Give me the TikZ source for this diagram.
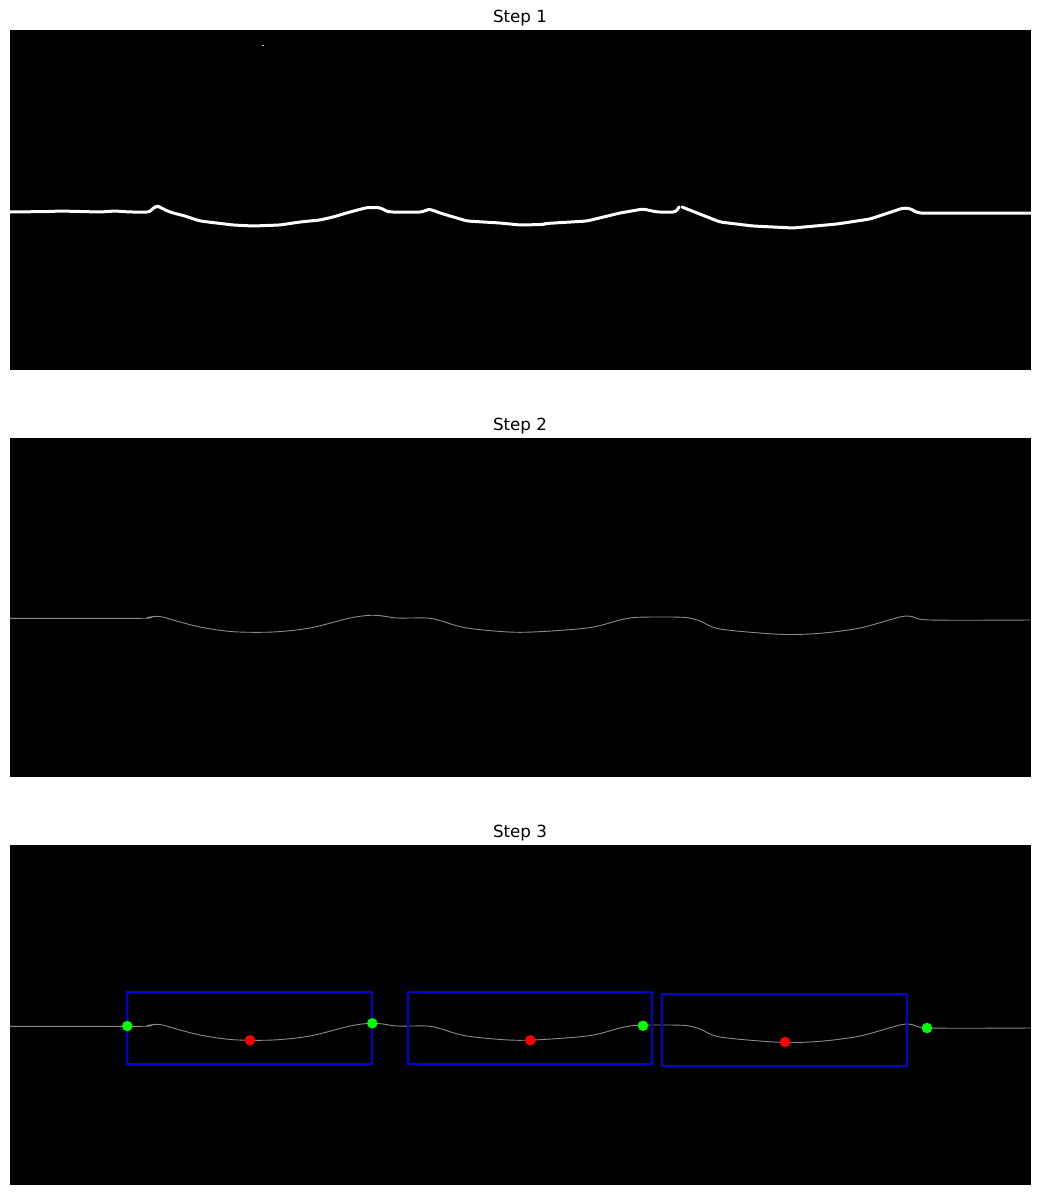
\documentclass[tikz,border=0pt]{standalone}
\usepackage{fontspec}
\setmainfont{DejaVu Sans}
\usepackage{tikz}
\usetikzlibrary{positioning}

\begin{document}
\begin{tikzpicture}[x=1pt, y=-1pt,
        panel/.style={fill=black},
        title/.style={font=\fontsize{16.7}{20}\selectfont, anchor=base, inner sep=0pt},
        rawline/.style={draw=white, line width=3pt, line join=round, line cap=round, rounded corners=3pt},
        edge/.style={draw=white!55!black, line width=0.9pt},
        roi/.style={draw=blue!85!black, line width=1.5pt},
        gdot/.style={circle, fill=green, inner sep=0pt, minimum size=10.5pt},
        rdot/.style={circle, fill=red, inner sep=0pt, minimum size=10.5pt}
      ]
        \useasboundingbox (0,0) rectangle (1040,1195);
        \fill[panel] (10,30) rectangle (1031,370);
        \fill[panel] (10,438) rectangle (1031,777);
        \fill[panel] (10,845) rectangle (1031,1185);
        \node[title] (t1) at (520,22)  {Step 1};
        \node[title] (t2) at (520,430) {Step 2};
        \node[title] (t3) at (520,837) {Step 3};
        % raw binary edge
        \fill[white!80!black] (262.3,44.8) rectangle (263.8,46.3);
        \draw[rawline] (10,212) -- (50,211.5) -- (60,211) -- (100,212) -- (115,211) -- (130,212)
            -- (150,212) -- (153,208) -- (157,206) -- (160,207) -- (165,210) -- (173,213)
            -- (185,216) -- (200,221) -- (233,225) -- (253,226) -- (280,225) -- (300,222)
            -- (320,220) -- (333,217) -- (350,212) -- (367,207.5) -- (380,207.5) -- (386,211)
            -- (390,212) -- (423,212) -- (427,209.5) -- (431,209.5) -- (440,213) -- (467,221)
            -- (500,223) -- (520,225) -- (543,224.5) -- (546,223.5) -- (587,221) -- (620,213)
            -- (643,209) -- (657,212) -- (676,212) -- (679,207);
        \draw[rawline] (682,207) -- (720,222) -- (753,226) -- (793,228) -- (837,224) -- (870,219)
            -- (903,208) -- (910,208.5) -- (918,213) -- (1031,213);
        % smoothed edge, steps 2 and 3
        \foreach \off in {0,408}
          \draw[edge, yshift=-\off pt] plot[smooth, tension=0.5] coordinates {
            (10,618.3) (140,618.3) (148,617.3) (157,616.3) (165,617.5) (173,620) (200,627)
            (233,631.7) (273,632) (310,628) (350,618) (370,615.3) (383,616) (397,618) (427,618)
            (440,620.5) (467,628) (520,632.3) (587,628) (620,620) (637,617.3) (683,617.3)
            (700,621) (720,629) (780,634.3) (820,633.3) (860,628) (900,617) (912,616.5)
            (930,620) (1031,620)};
        \draw[roi] (127,992) rectangle (372,1064);
        \draw[roi] (408,992) rectangle (652,1064);
        \draw[roi] (662,994) rectangle (907,1066);
        \node[gdot] (g1) at (127.3,1026)   {};
        \node[gdot] (g2) at (372.3,1023.3) {};
        \node[gdot] (g3) at (643,1025.7)   {};
        \node[gdot] (g4) at (927,1028)     {};
        \node[rdot] (r1) at (250,1040.3)   {};
        \node[rdot] (r2) at (530.3,1040.3) {};
        \node[rdot] (r3) at (785,1042)     {};
      \end{tikzpicture}
\end{document}
